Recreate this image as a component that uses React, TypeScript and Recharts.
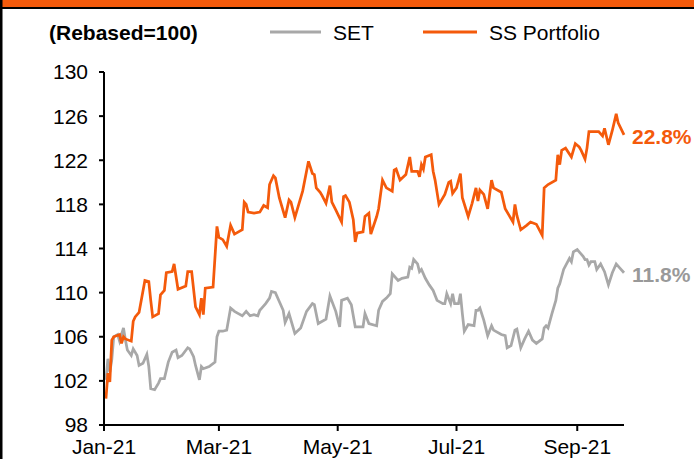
import { Line, LineChart, XAxis, YAxis } from 'recharts'

const YEAR = 2021

const ssDates = [
  '01-02', '01-03', '01-04', '01-05', '01-06', '01-09', '01-10', '01-11', '01-12', '01-15',
  '01-16', '01-17', '01-19', '01-22', '01-24', '01-25', '01-26', '01-29', '01-30', '02-01',
  '02-02', '02-05', '02-06', '02-08', '02-12', '02-13', '02-15', '02-17', '02-19', '02-20',
  '02-21', '02-22', '02-26', '02-28', '03-01', '03-03', '03-05', '03-07', '03-09', '03-13',
  '03-14', '03-15', '03-16', '03-19', '03-22', '03-24', '03-26', '03-27', '03-29', '03-30',
  '04-01', '04-04', '04-06', '04-07', '04-09', '04-13', '04-16', '04-18', '04-19', '04-20',
  '04-22', '04-23', '04-25', '04-27', '04-28', '04-30', '05-03', '05-04', '05-05', '05-07',
  '05-09', '05-10', '05-11', '05-14', '05-15', '05-17', '05-18', '05-21', '05-22', '05-24',
  '05-26', '05-29', '05-30', '05-31', '06-02', '06-05', '06-07', '06-08', '06-11', '06-12',
  '06-13', '06-14', '06-15', '06-18', '06-19', '06-20', '06-22', '06-25', '06-27', '06-28',
  '06-29', '07-01', '07-03', '07-04', '07-07', '07-09', '07-11', '07-12', '07-13', '07-15',
  '07-17', '07-19', '07-20', '07-24', '07-26', '07-28', '07-30', '07-31', '08-01', '08-03',
  '08-06', '08-08', '08-11', '08-14', '08-15', '08-17', '08-21', '08-22', '08-23', '08-24',
  '08-26', '08-29', '08-31', '09-02', '09-03', '09-05', '09-06', '09-07', '09-12', '09-14',
  '09-15', '09-17', '09-19', '09-21', '09-22', '09-25'
]
const ssValues = [
  100.4, 102.7, 101.9, 105.7, 106.0, 106.2, 105.4, 106.0, 105.8, 105.6,
  107.4, 107.8, 108.2, 111.1, 111.0, 109.3, 107.8, 108.1, 109.8, 110.2,
  111.8, 111.9, 112.6, 110.3, 110.6, 111.9, 111.9, 108.7, 108.0, 109.5,
  108.0, 110.4, 110.5, 116.0, 115.0, 114.8, 114.2, 116.1, 115.3, 115.7,
  118.2, 118.0, 117.3, 117.2, 117.3, 117.9, 117.7, 119.8, 120.6, 120.4,
  118.6, 116.8, 118.4, 118.2, 116.8, 119.2, 121.9, 120.8, 120.7, 119.5,
  119.1, 118.8, 118.1, 119.7, 118.2, 117.5, 116.4, 118.7, 118.8, 118.2,
  116.6, 114.6, 115.4, 115.5, 116.9, 117.2, 115.3, 116.9, 117.6, 120.2,
  119.5, 119.2, 121.1, 121.2, 120.2, 120.7, 122.3, 121.0, 121.0, 120.5,
  121.6, 121.2, 122.3, 122.5, 121.0, 120.2, 118.0, 118.9, 120.0, 120.1,
  119.0, 119.5, 120.8, 118.6, 116.9, 118.1, 119.5, 118.3, 119.3, 118.9,
  117.6, 120.2, 119.5, 119.1, 117.6, 117.0, 116.4, 118.0, 117.0, 115.7,
  116.1, 116.4, 116.2, 115.2, 119.5, 119.8, 120.2, 122.5, 121.6, 122.9,
  123.1, 122.3, 123.5, 123.2, 122.9, 122.1, 123.1, 124.6, 124.6, 124.2,
  124.9, 123.4, 124.7, 126.2, 125.4, 124.3
]

const setDates = [
  '01-02', '01-03', '01-04', '01-05', '01-06', '01-08', '01-09', '01-11', '01-12', '01-13',
  '01-15', '01-16', '01-18', '01-19', '01-21', '01-23', '01-24', '01-25', '01-27', '01-29',
  '01-30', '02-01', '02-03', '02-05', '02-07', '02-08', '02-10', '02-13', '02-14', '02-16',
  '02-17', '02-19', '02-20', '02-21', '02-24', '02-27', '02-28', '03-01', '03-03', '03-05',
  '03-07', '03-09', '03-11', '03-13', '03-15', '03-17', '03-19', '03-21', '03-22', '03-23',
  '03-25', '03-27', '03-28', '03-30', '04-01', '04-03', '04-04', '04-06', '04-09', '04-12',
  '04-15', '04-18', '04-19', '04-21', '04-25', '04-27', '04-30', '05-02', '05-03', '05-06',
  '05-08', '05-10', '05-12', '05-14', '05-15', '05-17', '05-21', '05-22', '05-24', '05-26',
  '05-28', '05-29', '06-01', '06-03', '06-06', '06-07', '06-08', '06-09', '06-11', '06-12',
  '06-13', '06-15', '06-17', '06-19', '06-21', '06-24', '06-25', '06-26', '06-28', '06-29',
  '06-30', '07-02', '07-03', '07-04', '07-05', '07-07', '07-10', '07-11', '07-12', '07-13',
  '07-15', '07-17', '07-19', '07-20', '07-24', '07-26', '07-27', '07-29', '07-31', '08-01',
  '08-03', '08-05', '08-07', '08-09', '08-11', '08-14', '08-15', '08-16', '08-17', '08-19',
  '08-21', '08-22', '08-23', '08-25', '08-28', '08-29', '08-30', '09-01', '09-02', '09-04',
  '09-05', '09-06', '09-07', '09-08', '09-10', '09-11', '09-13', '09-15', '09-17', '09-19',
  '09-21', '09-23', '09-25'
]
const setValues = [
  102.1, 104.0, 102.8, 103.9, 106.0, 106.2, 105.6, 106.8, 105.7, 104.8,
  104.3, 104.9, 104.3, 103.4, 103.6, 104.4, 103.3, 101.3, 101.2, 101.8,
  102.2, 102.2, 103.7, 104.6, 104.8, 104.1, 104.3, 105.0, 104.9, 104.2,
  103.4, 102.1, 103.3, 103.1, 103.3, 103.7, 106.0, 106.5, 106.5, 106.6,
  108.6, 108.3, 108.1, 107.9, 108.3, 107.9, 108.0, 107.9, 108.4, 108.6,
  109.0, 109.5, 110.1, 110.0, 109.2, 108.4, 107.3, 108.1, 106.3, 106.8,
  108.3, 109.0, 108.9, 107.2, 107.6, 109.7, 108.3, 106.9, 109.3, 109.5,
  108.9, 106.9, 106.9, 106.9, 108.1, 107.2, 107.0, 108.4, 109.2, 109.5,
  109.9, 111.7, 111.1, 111.3, 111.4, 112.3, 112.2, 113.0, 112.6, 111.9,
  112.1, 111.3, 110.7, 110.2, 109.3, 109.0, 109.0, 109.9, 109.0, 109.9,
  109.0, 109.0, 109.9, 108.1, 106.5, 107.1, 107.0, 108.4, 108.4, 108.6,
  107.5, 106.1, 107.0, 106.6, 106.2, 106.1, 105.0, 105.2, 106.6, 106.7,
  105.0, 105.8, 106.5, 105.7, 105.4, 105.8, 106.8, 107.0, 106.8, 108.1,
  109.3, 110.4, 110.8, 112.1, 113.1, 112.8, 113.7, 113.9, 113.7, 113.3,
  113.0, 113.0, 112.5, 112.8, 112.8, 112.1, 112.6, 111.9, 110.7, 111.8,
  112.6, 112.2, 111.8
]

const ssReturn = '22.8%'
const setReturn = '11.8%'

const yTicks = [98, 102, 106, 110, 114, 118, 122, 126, 130]
const xTickDates = ['01-01', '03-01', '05-01', '07-01', '09-01']
const xTickLabels = ['Jan-21', 'Mar-21', 'May-21', 'Jul-21', 'Sep-21']
const lastDate = '09-25'

const ORANGE = '#f45a0b'
const GREY = '#a8a8a8'
const FONT = '"Liberation Sans", Arial, sans-serif'

// day offset from 1 Jan so the x axis can be a plain number scale
const toDay = (md: string) => {
  const [m, d] = md.split('-').map(Number)
  return (Date.UTC(YEAR, m - 1, d) - Date.UTC(YEAR, 0, 1)) / 86400000
}

const ssData = ssDates.map((d, i) => ({ day: toDay(d), value: ssValues[i] }))
const setData = setDates.map((d, i) => ({ day: toDay(d), value: setValues[i] }))
const xTicks = xTickDates.map(toDay)

const endLabel = (text: string, color: string, lastIndex: number) => (props: any) => {
  if (props.index !== lastIndex) return null
  return (
    <text
      x={props.x + 8}
      y={props.y + 2}
      dy="0.35em"
      fill={color}
      fontSize={21}
      fontWeight="bold"
      fontFamily={FONT}
    >
      {text}
    </text>
  )
}

export default function App() {
  return (
    <div style={{ position: 'fixed', left: 0, top: 0, width: 694, height: 459, background: '#fff' }}>
      <LineChart width={694} height={459} margin={{ top: 72, right: 70, bottom: 4, left: 0 }}>
        <XAxis
          dataKey="day"
          type="number"
          domain={[0, toDay(lastDate)]}
          ticks={xTicks}
          interval={0}
          tickFormatter={(v: number) => xTickLabels[xTicks.indexOf(v)]}
          height={30}
          axisLine={{ stroke: '#000', strokeWidth: 2 }}
          tickLine={{ stroke: '#000', strokeWidth: 2 }}
          tickSize={6}
          tickMargin={8}
          tick={{ fill: '#000', fontSize: 21, fontFamily: FONT }}
        />
        <YAxis
          type="number"
          domain={[98, 130]}
          ticks={yTicks}
          interval={0}
          allowDataOverflow
          width={104}
          axisLine={{ stroke: '#000', strokeWidth: 2 }}
          tickLine={{ stroke: '#000', strokeWidth: 2 }}
          tickSize={5}
          tickMargin={11}
          tick={{ fill: '#000', fontSize: 21, fontFamily: FONT }}
        />
        <Line
          data={setData}
          dataKey="value"
          stroke={GREY}
          strokeWidth={2.75}
          dot={false}
          isAnimationActive={false}
          label={endLabel(setReturn, '#999999', setData.length - 1)}
        />
        <Line
          data={ssData}
          dataKey="value"
          stroke={ORANGE}
          strokeWidth={2.75}
          dot={false}
          isAnimationActive={false}
          label={endLabel(ssReturn, ORANGE, ssData.length - 1)}
        />
      </LineChart>
      <svg
        width={694}
        height={459}
        style={{ position: 'absolute', left: 0, top: 0, pointerEvents: 'none' }}
        fontFamily={FONT}
      >
        <rect x={0} y={0} width={694} height={7} fill={ORANGE} />
        <rect x={0} y={7} width={694} height={2} fill="#000" />
        <rect x={0} y={0} width={2.5} height={459} fill="#000" />
        <text x={49} y={39.5} fontSize={21} fontWeight="bold" fill="#000">(Rebased=100)</text>
        <line x1={270} x2={321} y1={32} y2={32} stroke={GREY} strokeWidth={3} />
        <text x={333} y={39.5} fontSize={21} fill="#000">SET</text>
        <line x1={423} x2={477} y1={32} y2={32} stroke={ORANGE} strokeWidth={3} />
        <text x={489} y={39.5} fontSize={21} fill="#000">SS Portfolio</text>
      </svg>
    </div>
  )
}
